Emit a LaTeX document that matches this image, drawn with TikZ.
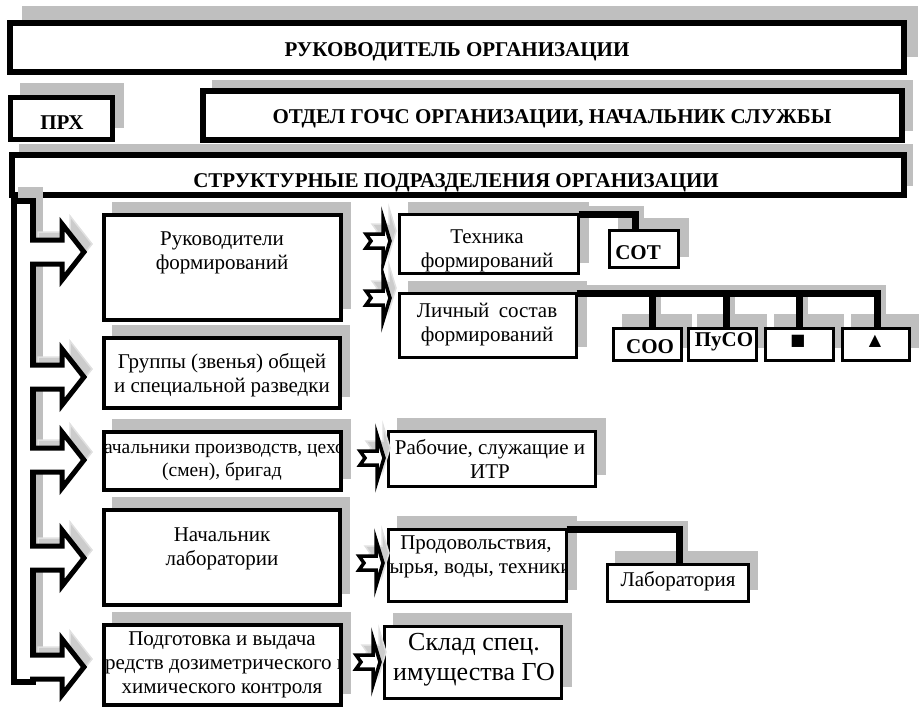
\documentclass[tikz,border=0pt]{standalone}
\usepackage{fontspec}
\setmainfont{Liberation Serif}
\newfontfamily\symfont{DejaVu Sans}
\usetikzlibrary{calc}
\pgfdeclarelayer{bg}
\pgfsetlayers{bg,main}

\newcommand\bx[8]{%
  \begin{pgfonlayer}{bg}
    \fill[shade] (#3+#7-1,#4-#8-1) rectangle (#5+#7+1,#6-#8+1);
  \end{pgfonlayer}
  \node[#2, anchor=north west, minimum width=#5-#3, minimum height=#6-#4] (#1) at (#3,#4) {};}

\newcommand\bigarr[1]{%
  \filldraw[arrowsh, shift={(8,-8)}] (30,#1-12) -- (62,#1-12) -- (62,#1-28) -- (84,#1) -- (62,#1+28) -- (62,#1+12) -- (30,#1+12) -- cycle;
  \filldraw[arrowbig] (30,#1-12) -- (62,#1-12) -- (62,#1-28) -- (84,#1) -- (62,#1+28) -- (62,#1+12) -- (30,#1+12);}

\newcommand\smallarr[2]{%
  \filldraw[arrowsh, shift={(6,-10)}] (#1-24,#2-7) -- (#1-7,#2-7) -- (#1-7,#2-23) -- (#1,#2) -- (#1-7,#2+23) -- (#1-7,#2+7) -- (#1-24,#2+7) -- (#1-19,#2) -- cycle;
  \filldraw[arrowsmall] (#1-24,#2-7) -- (#1-7,#2-7) -- (#1-7,#2-23) -- (#1,#2) -- (#1-7,#2+23) -- (#1-7,#2+7) -- (#1-24,#2+7) -- (#1-19,#2) -- cycle;}

\begin{document}
\begin{tikzpicture}[x=1pt,y=-1pt,
  shade/.style={fill=black!25},
  bigbox/.style={draw, line width=6pt, fill=white, inner sep=0pt, outer sep=0pt},
  midbox/.style={draw, line width=5pt, fill=white, inner sep=0pt, outer sep=0pt},
  lbox/.style={draw, line width=4pt, fill=white, inner sep=0pt, outer sep=0pt},
  rbox/.style={draw, line width=3pt, fill=white, inner sep=0pt, outer sep=0pt},
  conn/.style={draw, line width=7pt, line join=miter},
  connsh/.style={draw=black!25, line width=7pt, line join=miter},
  arrowbig/.style={draw, line width=5pt, fill=white, line join=miter},
  arrowsmall/.style={draw, line width=3.5pt, fill=white, line join=miter},
  arrowsh/.style={fill=black!20, draw=black!12, line width=1.5pt, line join=miter},
  hfont/.style={font=\bfseries\fontsize{21}{24}\selectfont, inner sep=0pt},
  tfont/.style={font=\fontsize{21}{24}\selectfont, align=center, inner sep=0pt},
  sfont/.style={font=\fontsize{26}{30}\selectfont, align=center, inner sep=0pt}]
\useasboundingbox (0,0) rectangle (919,709);

% top boxes
\bx{ruk}{bigbox}{10}{23}{904}{72}{13}{16}
\bx{prh}{midbox}{10.5}{97.5}{112.5}{139.5}{10}{13}
\bx{otd}{bigbox}{203}{91}{902}{140}{10}{10}
\bx{str}{bigbox}{12}{155}{904}{195}{8}{10}

% vertical bar
\fill[shade] (18,187) rectangle (43,670);
\node[draw, line width=6pt, fill=white, inner sep=0pt, anchor=north west, minimum width=19, minimum height=481] (bar) at (11,198) {};

% left column boxes
\bx{b1}{lbox}{104}{215}{341}{320}{9}{12}
\bx{b2}{lbox}{104}{338}{340}{408}{9}{12}
\bx{b3}{lbox}{104}{432}{341}{490}{9}{12}
\bx{b4}{lbox}{104}{510}{340}{605}{9}{12}
\bx{b5}{lbox}{104}{625}{341}{705}{9}{12}

% right boxes
\bx{tech}{rbox}{399.5}{214.5}{578.5}{273.5}{9}{12}
\bx{sot}{rbox}{609.5}{230.5}{678.5}{267.5}{9}{12}
\bx{lich}{rbox}{399.5}{293.5}{576.5}{357.5}{9}{12}
\bx{soo}{rbox}{613.5}{328.5}{681.5}{360.5}{9}{14}
\bx{puso}{rbox}{688.5}{328.5}{756.5}{360.5}{9}{14}
\bx{sq}{rbox}{765.5}{328.5}{833.5}{360.5}{9}{14}
\bx{tri}{rbox}{842.5}{328.5}{909.5}{360.5}{9}{14}
\bx{rab}{rbox}{388.5}{431.5}{595.5}{486.5}{9}{13}
\bx{prod}{rbox}{388.5}{529.5}{566.5}{601.5}{9}{13}
\bx{lab}{rbox}{607.5}{564.5}{748.5}{601.5}{8}{13}
\bx{skl}{rbox}{384.5}{626.5}{561.5}{698.5}{9}{13}

% connectors (shadows first)
\begin{pgfonlayer}{bg}
\draw[connsh, transform canvas={xshift=5pt, yshift=5pt}] (tech.north east) -| ([xshift=26pt]sot.north west);
\draw[connsh, transform canvas={xshift=5pt, yshift=5pt}] (lich.north east) -| ([xshift=35pt]tri.north west);
\draw[connsh, transform canvas={xshift=5pt, yshift=5pt}] ([xshift=39pt]soo.north west) |- (lich.north east);
\draw[connsh, transform canvas={xshift=5pt, yshift=5pt}] ([xshift=38pt]puso.north west) |- (lich.north east);
\draw[connsh, transform canvas={xshift=5pt, yshift=5pt}] ([xshift=34pt]sq.north west) |- (lich.north east);
\draw[connsh, transform canvas={xshift=5pt, yshift=5pt}] (prod.north east) -| ([xshift=72pt]lab.north west);
\end{pgfonlayer}
\draw[conn] (tech.north east) -| ([xshift=26pt]sot.north west);
\draw[conn] (lich.north east) -| ([xshift=35pt]tri.north west);
\draw[conn] ([xshift=39pt]soo.north west) |- (lich.north east);
\draw[conn] ([xshift=38pt]puso.north west) |- (lich.north east);
\draw[conn] ([xshift=34pt]sq.north west) |- (lich.north east);
\draw[conn] (prod.north east) -| ([xshift=72pt]lab.north west);

% big arrows
\bigarr{252}
\bigarr{377}
\bigarr{460}
\bigarr{558}
\bigarr{667}

% small arrows
\smallarr{390}{241}
\smallarr{390}{298}
\smallarr{384}{458}
\smallarr{383}{563}
\smallarr{380}{662}

% header texts
\node[hfont, anchor=base] (truk) at (457,57) {РУКОВОДИТЕЛЬ ОРГАНИЗАЦИИ};
\node[hfont, anchor=base] (tprh) at (62,129) {ПРХ};
\node[hfont, anchor=base] (totd) at (552,123) {ОТДЕЛ ГОЧС ОРГАНИЗАЦИИ, НАЧАЛЬНИК СЛУЖБЫ};
\node[hfont, anchor=base] (tstr) at (456,187) {СТРУКТУРНЫЕ ПОДРАЗДЕЛЕНИЯ ОРГАНИЗАЦИИ};

% left texts
\node[tfont] (t1) at (222,253) {Руководители\\формирований};
\node[tfont] (t2) at (222,375) {Группы (звенья) общей\\и специальной разведки};
\begin{scope}
\clip ([shift={(2,2)}]b3.north west) rectangle ([shift={(-2,-2)}]b3.south east);
\node[tfont, font=\fontsize{19.5}{23}\selectfont] (t3) at (222,461) {Начальники производств, цехов\\(смен), бригад};
\end{scope}
\node[tfont] (t4) at (222,549) {Начальник\\лаборатории};
\begin{scope}
\clip ([shift={(2,2)}]b5.north west) rectangle ([shift={(-2,-2)}]b5.south east);
\node[tfont] (t5) at (222,665) {Подготовка и выдача\\средств дозиметрического и\\химического контроля};
\end{scope}

% right texts
\node[tfont] (ttech) at (487,251) {Техника\\формирований};
\node[tfont] (tlich) at (487,325) {Личный\hspace{0.45em}состав\\формирований};
\node[hfont, anchor=base] (tsot) at (638,259) {СОТ};
\node[hfont, anchor=base] (tsoo) at (650,353) {СОО};
\node[hfont, anchor=base] (tpuso) at (724,346) {ПуСО};
\node[font=\symfont\fontsize{16}{18}\selectfont, inner sep=0pt] (tsq) at (798,341) {■};
\node[font=\symfont\fontsize{16}{18}\selectfont, inner sep=0pt] (ttri) at (875,341) {▲};
\node[tfont] (trab) at (490,459) {Рабочие, служащие и\\ИТР};
\begin{scope}
\clip ([shift={(1.5,1.5)}]prod.north west) rectangle ([shift={(-1.5,-1.5)}]prod.south east);
\node[tfont] (tprod) at (476,557) {Продовольствия,\\сырья, воды, техники};
\end{scope}
\node[tfont, anchor=base] (tlab) at (678,586) {Лаборатория};
\node[sfont] (tskl) at (474,660) {Склад спец.\\имущества ГО};
\end{tikzpicture}
\end{document}
